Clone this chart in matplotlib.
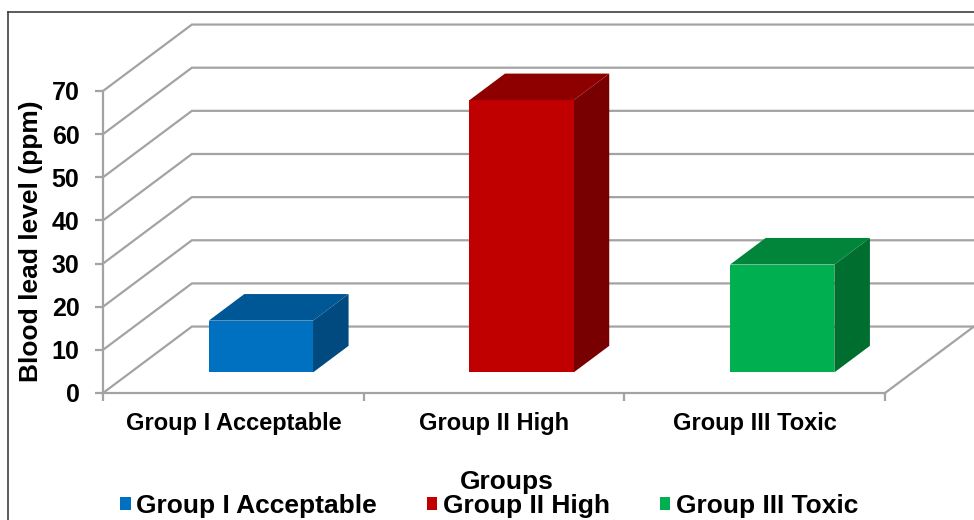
import matplotlib.pyplot as plt
from matplotlib.patches import Polygon, Patch
from matplotlib.lines import Line2D

plt.rcParams['font.family'] = ['Liberation Sans', 'DejaVu Sans']
plt.rcParams['font.weight'] = 'bold'

groups = ['Group I Acceptable', 'Group II High', 'Group III Toxic']
lead_ppm = [12.0, 63.1, 25.0]
y_ticks = [0, 10, 20, 30, 40, 50, 60, 70]
front_colors = ['#0070C0', '#C00000', '#00B050']
top_colors = ['#005795', '#8E0000', '#00853A']
side_colors = ['#004A7F', '#780000', '#006E2F']

# oblique "3d" look: depth 0..1 shifts right and up
DX = 0.341   # category units per full depth
DY = 15.4    # value units per full depth
grid_col = '#a3a3a3'


def proj(x, v, d):
    return (x + d * DX, v + d * DY)


fig = plt.figure(figsize=(9.74, 5.2), dpi=100)
ax = fig.add_axes([103 / 974, 1 - 393 / 520, 782 / 974, 302 / 520])
ax.set_xlim(0.5, 3.5)
ax.set_ylim(0, 70)

x_left = 0.5
x_right = 0.5 + len(groups)

# walls: left side diagonals + back wall gridlines
for v in y_ticks:
    a = proj(x_left, v, 0)
    b = proj(x_left, v, 1)
    c = proj(x_right, v, 1)
    ax.plot([a[0], b[0], c[0]], [a[1], b[1], c[1]], color=grid_col, lw=1.6,
            clip_on=False, zorder=1, solid_joinstyle='miter')
# floor right edge
a = proj(x_right, 0, 0)
b = proj(x_right, 0, 1)
ax.plot([a[0], b[0]], [a[1], b[1]], color=grid_col, lw=1.6, clip_on=False, zorder=1)

# bars
w = 0.4
d0, d1 = 0.31, 0.71
for i, val in enumerate(lead_ppm):
    xc = i + 1
    x0, x1 = xc - w / 2, xc + w / 2
    side = [proj(x1, 0, d0), proj(x1, 0, d1), proj(x1, val, d1), proj(x1, val, d0)]
    top = [proj(x0, val, d0), proj(x1, val, d0), proj(x1, val, d1), proj(x0, val, d1)]
    front = [proj(x0, 0, d0), proj(x1, 0, d0), proj(x1, val, d0), proj(x0, val, d0)]
    ax.add_patch(Polygon(side, closed=True, fc=side_colors[i], ec='none', clip_on=False, zorder=3))
    ax.add_patch(Polygon(top, closed=True, fc=top_colors[i], ec='none', clip_on=False, zorder=3))
    ax.add_patch(Polygon(front, closed=True, fc=front_colors[i], ec='none', clip_on=False, zorder=4))

for s in ['top', 'right']:
    ax.spines[s].set_visible(False)
for s in ['left', 'bottom']:
    ax.spines[s].set_color(grid_col)
    ax.spines[s].set_linewidth(1.6)
    ax.spines[s].set_zorder(2)

ax.set_yticks(y_ticks)
ax.set_yticklabels([str(t) for t in y_ticks], fontsize=18, fontweight='bold')
ax.tick_params(axis='y', length=6, width=1.6, color=grid_col, pad=11)

ax.set_xticks([x_left + k for k in range(len(groups) + 1)])
ax.set_xticklabels([])
ax.tick_params(axis='x', which='major', length=6, width=1.6, color=grid_col)
ax.set_xticks([k + 1 for k in range(len(groups))], minor=True)
ax.set_xticklabels(groups, minor=True, fontsize=17, fontweight='bold')
ax.tick_params(axis='x', which='minor', length=0, pad=14)
ax.patch.set_visible(False)

fig.text(31 / 974, 1 - 241 / 520, 'Blood lead level (ppm)', rotation=90,
         ha='center', va='center', fontsize=19, fontweight='bold')
fig.text(507 / 974, 1 - 482 / 520, 'Groups', ha='center', va='center',
         fontsize=19, fontweight='bold')

handles = [Patch(facecolor=c, edgecolor='none') for c in front_colors]
fig.legend(handles, groups, loc='center', bbox_to_anchor=(489 / 974, 1 - 506 / 520),
           ncol=3, frameon=False, fontsize=19, handlelength=0.4, handleheight=0.4,
           handletextpad=0.2, columnspacing=1.9, borderpad=0, borderaxespad=0)

# outer chart border (cropped)
fig.add_artist(Line2D([8 / 974, 8 / 974], [0, 1 - 12 / 520], transform=fig.transFigure,
                      color='#404040', lw=1.2))
fig.add_artist(Line2D([8 / 974, 1], [1 - 12 / 520, 1 - 12 / 520], transform=fig.transFigure,
                      color='#404040', lw=1.2))

fig.savefig('out.png', dpi=100)
